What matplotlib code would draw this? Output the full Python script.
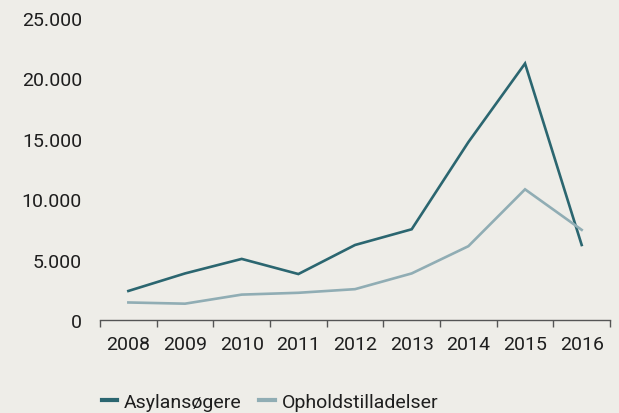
import matplotlib.pyplot as plt
import numpy as np

# data
years = ['2008', '2009', '2010', '2011', '2012', '2013', '2014', '2015', '2016']
asyl = [2400, 3850, 5050, 3800, 6200, 7500, 14700, 21200, 6200]
ophold = [1450, 1350, 2100, 2250, 2550, 3850, 6100, 10800, 7450]
yticks = [0, 5000, 10000, 15000, 20000, 25000]
ytick_labels = ['0', '5.000', '10.000', '15.000', '20.000', '25.000']

bg = '#eeede8'
dark = '#2b6670'
light = '#90adb4'

plt.rcParams['font.family'] = ['Roboto', 'DejaVu Sans']

fig = plt.figure(figsize=(6.19, 4.14), dpi=100, facecolor=bg)
ax = fig.add_axes([0.1616, 0.2246, 0.8239, 0.7307])
ax.set_facecolor(bg)

x = np.arange(len(years))
ax.plot(x, asyl, color=dark, lw=1.9, label='Asylansøgere', solid_joinstyle='miter')
ax.plot(x, ophold, color=light, lw=1.9, label='Opholdstilladelser', solid_joinstyle='miter')

ax.set_xlim(-0.5, len(years) - 0.5)
ax.set_ylim(0, 25000)

# band boundaries get the tick marks, labels sit in the middle
ax.set_xticks(np.arange(-0.5, len(years), 1.0))
ax.set_xticklabels([])
ax.tick_params(axis='x', which='major', length=5, width=1, color='#555555', direction='out')
ax.set_xticks(x, minor=True)
ax.set_xticklabels(years, minor=True)
ax.tick_params(axis='x', which='minor', length=0, pad=11, labelsize=14, labelcolor='#1e1e1e')

ax.set_yticks(yticks)
ax.set_yticklabels(ytick_labels)
ax.tick_params(axis='y', length=0, pad=13, labelsize=14, labelcolor='#1e1e1e')

for s in ['top', 'right', 'left']:
    ax.spines[s].set_visible(False)
ax.spines['bottom'].set_color('#555555')
ax.spines['bottom'].set_linewidth(1)

leg = fig.legend(loc='lower left', bbox_to_anchor=(0.136, -0.038), ncol=2, frameon=False,
                 handlelength=0.8, handletextpad=0.36, columnspacing=0.9, fontsize=14)
for t in leg.get_texts():
    t.set_color('#1e1e1e')
for h in leg.legend_handles:
    h.set_linewidth(3)

fig.savefig('out.png', dpi=100, facecolor=bg)
